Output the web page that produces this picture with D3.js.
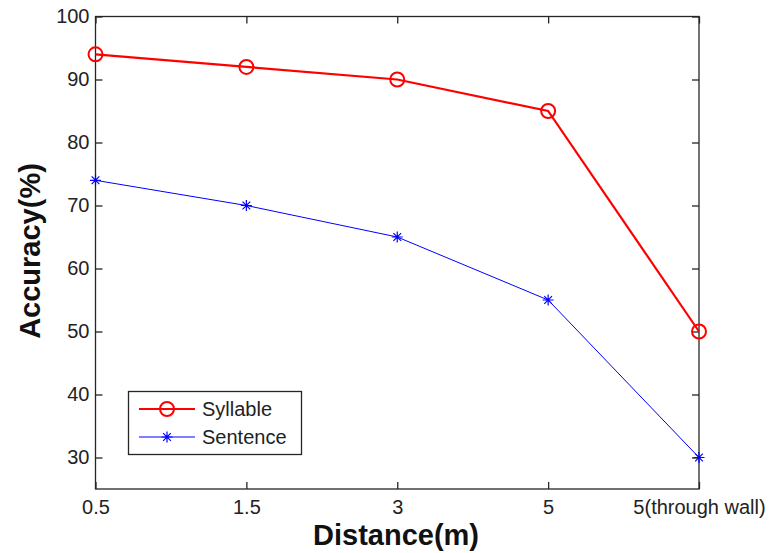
<!DOCTYPE html>
<html>
<head>
<meta charset="utf-8">
<script src="https://cdn.jsdelivr.net/npm/d3@7"></script>
<style>
  html, body { margin: 0; padding: 0; background: #fff; }
  svg { display: block; font-family: Arial, "Liberation Sans", sans-serif; }
</style>
</head>
<body>
<svg id="chart" width="771" height="553"></svg>
<script>
// Recognition accuracy versus speaker distance
const categories = ["0.5", "1.5", "3", "5", "5(through wall)"];
const syllable = [94, 92, 90, 85, 50];
const sentence = [74, 70, 65, 55, 30];
const yTicks = [30, 40, 50, 60, 70, 80, 90, 100];

const svg = d3.select("#chart");
const plotLeft = 95.5, plotRight = 699, plotTop = 16.5, plotBottom = 489;

const x = d3.scalePoint().domain(categories).range([plotLeft, plotRight]);
const y = d3.scaleLinear().domain([25, 100]).range([plotBottom, plotTop]);

const textColor = "#222";
const tickLen = 7;
const tickFont = "20px";

// frame
svg.append("rect")
  .attr("x", plotLeft).attr("y", plotTop)
  .attr("width", plotRight - plotLeft).attr("height", plotBottom - plotTop)
  .attr("fill", "none").attr("stroke", "#262626").attr("stroke-width", 1.3);

// inward ticks on all four sides
const yAxisL = d3.axisLeft(y).tickValues(yTicks).tickSizeInner(-tickLen).tickSizeOuter(0).tickPadding(6);
const gL = svg.append("g").attr("transform", `translate(${plotLeft},0)`).call(yAxisL);
const yAxisR = d3.axisRight(y).tickValues(yTicks).tickSizeInner(-tickLen).tickSizeOuter(0).tickFormat("");
const gR = svg.append("g").attr("transform", `translate(${plotRight},0)`).call(yAxisR);
const xAxisB = d3.axisBottom(x).tickSizeInner(-tickLen).tickSizeOuter(0).tickPadding(11);
const gB = svg.append("g").attr("transform", `translate(0,${plotBottom})`).call(xAxisB);
const xAxisT = d3.axisTop(x).tickSizeInner(-tickLen).tickSizeOuter(0).tickFormat("");
const gT = svg.append("g").attr("transform", `translate(0,${plotTop})`).call(xAxisT);

[gL, gR, gB, gT].forEach(g => {
  g.select(".domain").remove();
  g.selectAll(".tick line").attr("stroke", "#262626").attr("stroke-width", 1.3);
  g.selectAll(".tick text").attr("fill", textColor).style("font-size", tickFont).style("font-family", "Arial, 'Liberation Sans', sans-serif");
});

// axis titles
svg.append("text")
  .attr("x", 396).attr("y", 545)
  .attr("text-anchor", "middle")
  .attr("fill", "#111")
  .style("font-size", "29px").style("font-weight", "bold")
  .text("Distance(m)");
svg.append("text")
  .attr("transform", "translate(40,251) rotate(-90)")
  .attr("text-anchor", "middle")
  .attr("fill", "#111")
  .style("font-size", "29px").style("font-weight", "bold")
  .text("Accuracy(%)");

const line = d3.line().x((d, i) => x(categories[i])).y(d => y(d));

// Syllable series: thick red line with open circles
svg.append("path").datum(syllable)
  .attr("d", line).attr("fill", "none")
  .attr("stroke", "#ff0000").attr("stroke-width", 2.2);
svg.selectAll(".syl").data(syllable).enter().append("circle")
  .attr("cx", (d, i) => x(categories[i])).attr("cy", d => y(d))
  .attr("r", 7).attr("fill", "none")
  .attr("stroke", "#ff0000").attr("stroke-width", 2);

// Sentence series: thin blue line with asterisks
svg.append("path").datum(sentence)
  .attr("d", line).attr("fill", "none")
  .attr("stroke", "#0000ff").attr("stroke-width", 1);

function asterisk(g, cx, cy, s) {
  const path = d3.path();
  path.moveTo(cx - s, cy); path.lineTo(cx + s, cy);
  path.moveTo(cx, cy - s); path.lineTo(cx, cy + s);
  const k = s * 0.7;
  path.moveTo(cx - k, cy - k); path.lineTo(cx + k, cy + k);
  path.moveTo(cx - k, cy + k); path.lineTo(cx + k, cy - k);
  g.append("path").attr("d", path.toString())
    .attr("stroke", "#0000ff").attr("stroke-width", 1.2).attr("fill", "none");
}
sentence.forEach((d, i) => asterisk(svg, x(categories[i]), y(d), 5.5));

// legend
const lg = svg.append("g");
lg.append("rect")
  .attr("x", 128.5).attr("y", 391.5).attr("width", 173).attr("height", 63)
  .attr("fill", "#fff").attr("stroke", "#262626").attr("stroke-width", 1.3);
lg.append("line").attr("x1", 139).attr("x2", 195).attr("y1", 409).attr("y2", 409)
  .attr("stroke", "#ff0000").attr("stroke-width", 2.2);
lg.append("circle").attr("cx", 167).attr("cy", 409).attr("r", 7)
  .attr("fill", "none").attr("stroke", "#ff0000").attr("stroke-width", 2);
lg.append("line").attr("x1", 139).attr("x2", 195).attr("y1", 437).attr("y2", 437)
  .attr("stroke", "#0000ff").attr("stroke-width", 1);
asterisk(lg, 167, 437, 5.5);
lg.append("text").attr("x", 202).attr("y", 416)
  .attr("fill", textColor).style("font-size", "20px").text("Syllable");
lg.append("text").attr("x", 202).attr("y", 444)
  .attr("fill", textColor).style("font-size", "20px").text("Sentence");
</script>
</body>
</html>
